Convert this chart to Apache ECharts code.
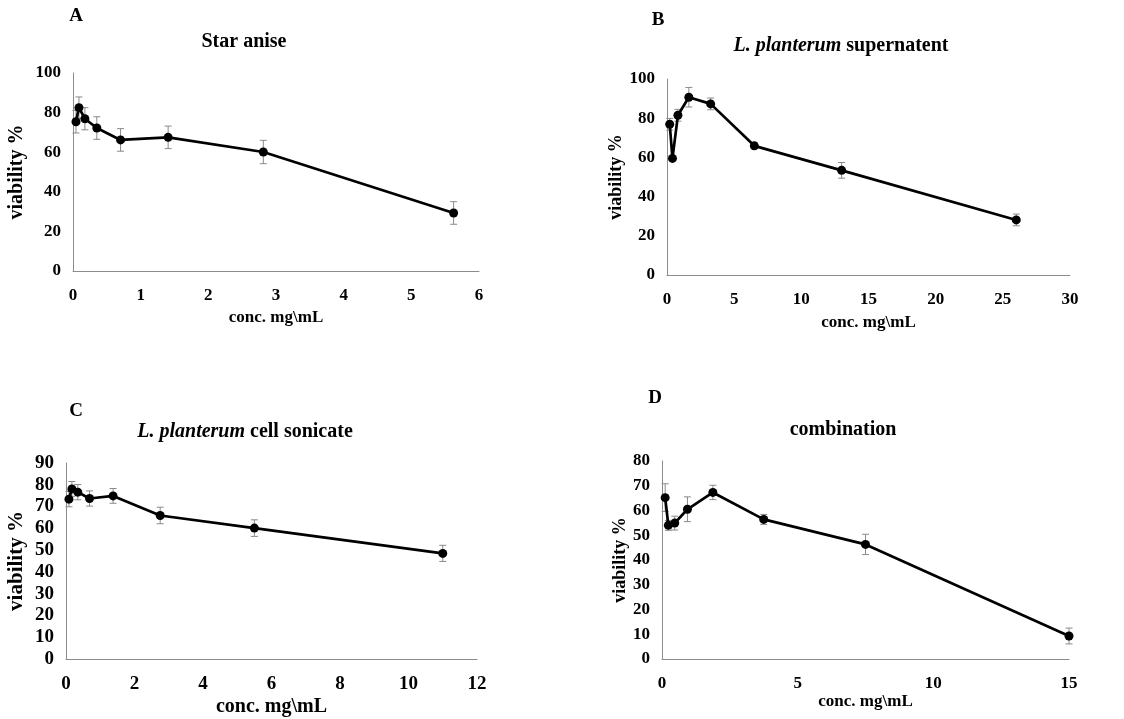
<!DOCTYPE html>
<html>
<head>
<meta charset="utf-8">
<script src="https://cdn.jsdelivr.net/npm/echarts@6/dist/echarts.min.js"></script>
<style>
  html, body { margin: 0; padding: 0; background: #fff; }
  #chart { width: 1124px; height: 719px; }
</style>
</head>
<body>
<div id="chart"></div>
<script>
// A - star anise
var concA = [0.044, 0.088, 0.176, 0.352, 0.703, 1.406, 2.8125, 5.625];
var viabA = [75.4, 82.5, 76.9, 72.2, 66.2, 67.5, 60.1, 29.3];
var errA  = [5.7, 5.4, 5.6, 5.7, 5.7, 5.7, 5.9, 5.7];

// B - L. planterum supernatent
var concB = [0.203, 0.406, 0.8125, 1.625, 3.25, 6.5, 13, 26];
var viabB = [76.9, 59.5, 81.5, 90.7, 87.3, 65.9, 53.4, 28.1];
var errB  = [3, 1, 3, 5, 3, 1.5, 4, 3];

// C - L. planterum cell sonicate
var concC = [0.086, 0.172, 0.344, 0.6875, 1.375, 2.75, 5.5, 11];
var viabC = [73.4, 78.1, 76.6, 73.7, 74.9, 65.9, 60.1, 48.5];
var errC  = [3.5, 3.4, 3.5, 3.5, 3.4, 3.8, 3.8, 3.7];

// D - combination
var concD = [0.117, 0.234, 0.469, 0.9375, 1.875, 3.75, 7.5, 15];
var viabD = [65.2, 54.0, 54.9, 60.5, 67.3, 56.4, 46.3, 9.3];
var errD  = [5.6, 2, 2.8, 5, 2.9, 2, 4.1, 3.2];

var FONT = "'Liberation Serif', 'Times New Roman', serif";

var myChart = echarts.init(document.getElementById('chart'));

function pts(xs, ys) {
    return xs.map(function (x, i) { return [x, ys[i]]; });
}
function bars(xs, ys, es) {
    return xs.map(function (x, i) { return [x, ys[i] - es[i], ys[i] + es[i]]; });
}

function renderError(params, api) {
    var lo = api.coord([api.value(0), api.value(1)]);
    var hi = api.coord([api.value(0), api.value(2)]);
    var hw = 3.5;
    var st = { stroke: '#8a8a8a', lineWidth: 1 };
    return {
        type: 'group',
        children: [
            { type: 'line', shape: { x1: hi[0], y1: hi[1], x2: lo[0], y2: lo[1] }, style: st },
            { type: 'line', shape: { x1: hi[0] - hw, y1: hi[1], x2: hi[0] + hw, y2: hi[1] }, style: st },
            { type: 'line', shape: { x1: lo[0] - hw, y1: lo[1], x2: lo[0] + hw, y2: lo[1] }, style: st }
        ]
    };
}

// grid boxes: left, top, width, height
var boxes = [
    { left: 73, top: 73, width: 406, height: 198 },
    { left: 667, top: 79, width: 403, height: 196 },
    { left: 66, top: 463, width: 411, height: 196 },
    { left: 662, top: 461, width: 407, height: 198 }
];
var xMax = [6, 30, 12, 15];
var xStep = [1, 5, 2, 5];
var yMax = [100, 100, 90, 80];
var yStep = [20, 20, 10, 10];
var tickSize = [17, 17, 19, 17];
var nameSize = [17, 17, 20, 17];
var xNameGap = [38, 39, 38, 28];
var yNameGap = [46, 42, 39, 33];
var yNameSize = [20, 18, 21, 18];

var xAxes = [], yAxes = [], grids = [];
boxes.forEach(function (b, i) {
    grids.push(b);
    xAxes.push({
        type: 'value', gridIndex: i, min: 0, max: xMax[i], interval: xStep[i],
        name: 'conc. mg\\mL', nameLocation: 'middle', nameGap: xNameGap[i],
        nameTextStyle: { fontFamily: FONT, fontWeight: 'bold', fontSize: nameSize[i], color: '#000' },
        axisLine: { onZero: false, lineStyle: { color: '#8c8c8c', width: 1 } },
        axisTick: { show: false },
        splitLine: { show: false },
        axisLabel: { margin: 16, fontFamily: FONT, fontWeight: 'bold', fontSize: tickSize[i], color: '#000' }
    });
    yAxes.push({
        type: 'value', gridIndex: i, min: 0, max: yMax[i], interval: yStep[i],
        name: 'viability %', nameLocation: 'middle', nameGap: yNameGap[i],
        nameTextStyle: { fontFamily: FONT, fontWeight: 'bold', fontSize: yNameSize[i], color: '#000' },
        axisLine: { show: true, lineStyle: { color: '#8c8c8c', width: 1 } },
        axisTick: { show: false },
        splitLine: { show: false },
        axisLabel: { margin: 12, fontFamily: FONT, fontWeight: 'bold', fontSize: tickSize[i], color: '#000' }
    });
});

var sets = [
    [concA, viabA, errA],
    [concB, viabB, errB],
    [concC, viabC, errC],
    [concD, viabD, errD]
];
var series = [];
sets.forEach(function (s, i) {
    series.push({
        type: 'custom', xAxisIndex: i, yAxisIndex: i, z: 1,
        renderItem: renderError,
        encode: { x: 0, y: [1, 2] },
        data: bars(s[0], s[1], s[2])
    });
    series.push({
        type: 'line', xAxisIndex: i, yAxisIndex: i, z: 3,
        symbol: 'circle', symbolSize: 9,
        itemStyle: { color: '#000' },
        lineStyle: { color: '#000', width: 2.7 },
        data: pts(s[0], s[1])
    });
});

function label(txt, x, y, size) {
    return {
        type: 'text', x: x, y: y,
        style: {
            text: txt, align: 'center', verticalAlign: 'middle',
            fontFamily: FONT, fontWeight: 'bold', fontSize: size, fill: '#000',
            rich: {
                i: { fontFamily: FONT, fontWeight: 'bold', fontStyle: 'italic', fontSize: size, fill: '#000' },
                n: { fontFamily: FONT, fontWeight: 'bold', fontSize: size, fill: '#000' }
            }
        }
    };
}

var option = {
    animation: false,
    backgroundColor: '#fff',
    graphic: [
        label('A', 76, 16, 19),
        label('Star anise', 244, 42, 20),
        label('B', 658, 20, 19),
        label('{i|L. planterum} {n|supernatent}', 841, 46, 20),
        label('C', 76, 411, 19),
        label('{i|L. planterum} {n|cell sonicate}', 245, 432, 20),
        label('D', 655, 398, 19),
        label('combination', 843, 430, 20)
    ],
    grid: grids,
    xAxis: xAxes,
    yAxis: yAxes,
    series: series
};

myChart.setOption(option);
</script>
</body>
</html>
